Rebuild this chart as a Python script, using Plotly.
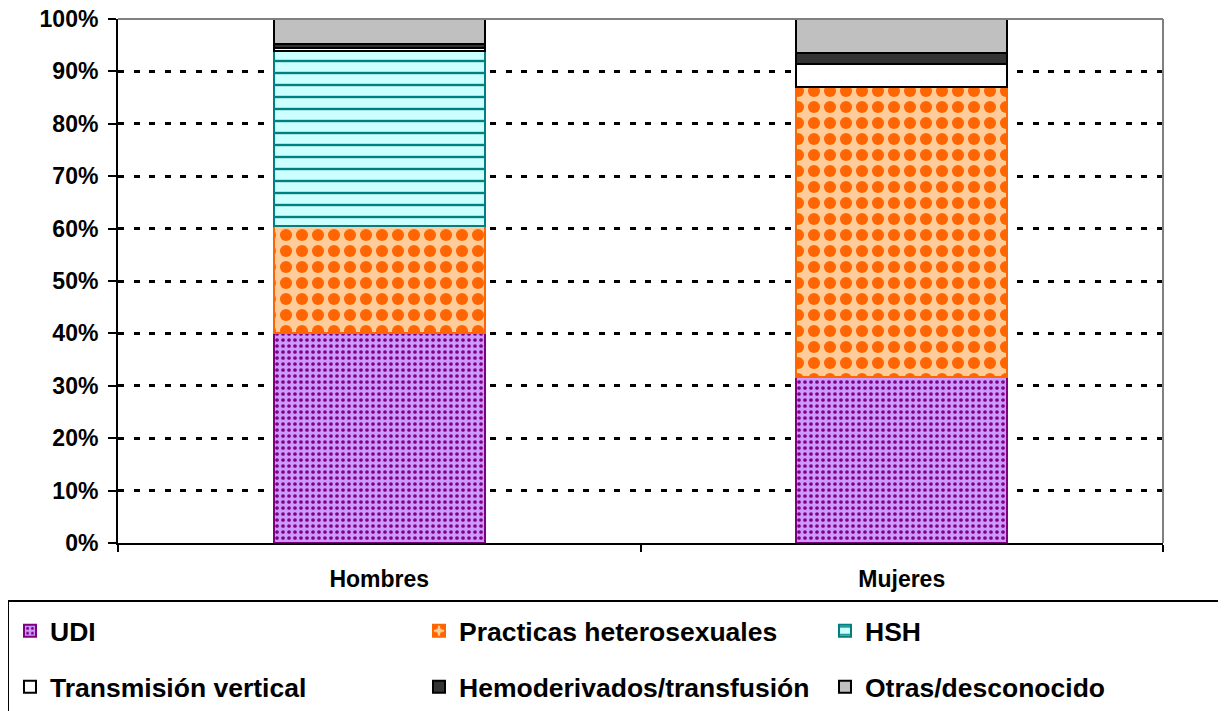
import plotly.graph_objects as go

categories = ["Hombres", "Mujeres"]
series_names = ["UDI", "Practicas heterosexuales", "HSH",
                "Transmisión vertical", "Hemoderivados/transfusión", "Otras/desconocido"]
udi = [40.0, 31.7]
hetero = [20.5, 55.3]
hsh = [33.3, 0.0]
vertical = [0.6, 4.4]
hemo = [0.9, 2.1]
otras = [4.7, 6.5]
y_ticks = [0, 10, 20, 30, 40, 50, 60, 70, 80, 90, 100]
y_tick_labels = ["0%", "10%", "20%", "30%", "40%", "50%", "60%", "70%", "80%", "90%", "100%"]

values = [udi, hetero, hsh, vertical, hemo, otras]
fills = ["#CC99FF", "#FFCC99", "#CCFFFF", "#FFFFFF", "#333333", "#C0C0C0"]
lines = ["#800080", "#FF6600", "#008080", "#000000", "#000000", "#000000"]
patterns = [
    dict(shape=".", fgcolor="#800080", bgcolor="#CC99FF", size=6, solidity=0.3, fillmode="replace"),
    dict(shape=".", fgcolor="#FF6600", bgcolor="#FFCC99", size=16, solidity=0.45, fillmode="replace"),
    dict(shape="-", fgcolor="#008080", bgcolor="#CCFFFF", size=12, solidity=0.2, fillmode="replace"),
    None, None, None,
]
legend_ids = ["legend2", "legend3", "legend4", "legend5", "legend6", "legend7"]

FONT = "Arial, Liberation Sans, sans-serif"
OFF = 8  # page body offset of the figure inside the browser window

# layout in window pixels (reference)
PL, PR, PT, PB = 118, 1163, 19, 543
PW, PH = PR - PL, PB - PT

fig = go.Figure()
for name, vals, fc, lc, pat, lg in zip(series_names, values, fills, lines, patterns, legend_ids):
    marker = dict(color=fc, line=dict(color=lc, width=2))
    if pat is not None:
        marker["pattern"] = pat
    fig.add_trace(go.Bar(x=categories, y=vals, name=name, marker=marker, legend=lg))

legend_common = dict(
    orientation="h", xanchor="left", yanchor="middle",
    xref="container", yref="container",
    font=dict(family=FONT, size=26.5, color="black", weight="bold"),
    itemwidth=30,
    bgcolor="rgba(0,0,0,0)", borderwidth=0,
)
text_x = [50, 459, 865, 50, 459, 865]
row_y = [631, 631, 631, 687, 687, 687]
legend_layouts = {}
for lg, tx, ry in zip(legend_ids, text_x, row_y):
    legend_layouts[lg] = dict(x=(tx - 40 - OFF) / 1226, y=1 - (ry - OFF) / 711, **legend_common)

fig.update_layout(
    barmode="stack",
    bargap=0.596,
    width=1226, height=711,
    margin=dict(l=PL - OFF, r=1226 - (PL - OFF) - PW, t=PT - OFF, b=711 - (PT - OFF) - PH,
                autoexpand=False),
    plot_bgcolor="white", paper_bgcolor="white",
    font=dict(family=FONT, color="black"),
    xaxis=dict(
        showline=True, linecolor="black", linewidth=2,
        ticks="outside", ticklen=7, tickwidth=2, tickcolor="black",
        tickson="boundaries", automargin=False,
        tickfont=dict(family=FONT, size=23, color="black", weight="bold"),
        ticklabelstandoff=14,
    ),
    yaxis=dict(
        range=[0, 100], tickvals=y_ticks, ticktext=y_tick_labels,
        showline=True, linecolor="black", linewidth=2,
        ticks="outside", ticklen=8, tickwidth=2, tickcolor="black",
        ticklabelstandoff=5, ticklabeloverflow="allow",
        showgrid=True, gridcolor="black", gridwidth=2.5, griddash="6px,9.5px",
        tickfont=dict(family=FONT, size=23, color="black", weight="bold"),
        zeroline=False, automargin=False,
    ),
    shapes=[
        dict(type="line", xref="paper", yref="paper", x0=0, x1=1, y0=1, y1=1,
             line=dict(color="#808080", width=2), layer="above"),
        dict(type="line", xref="paper", yref="paper", x0=1, x1=1, y0=0, y1=1,
             line=dict(color="#808080", width=2), layer="above"),
        dict(type="rect", xref="paper", yref="paper",
             x0=(8 - PL) / PW, x1=1.2, y0=-0.60, y1=(PB - 601) / PH,
             line=dict(color="black", width=2), fillcolor="rgba(0,0,0,0)"),
    ],
    **legend_layouts,
)

fig.write_html("out.html")
